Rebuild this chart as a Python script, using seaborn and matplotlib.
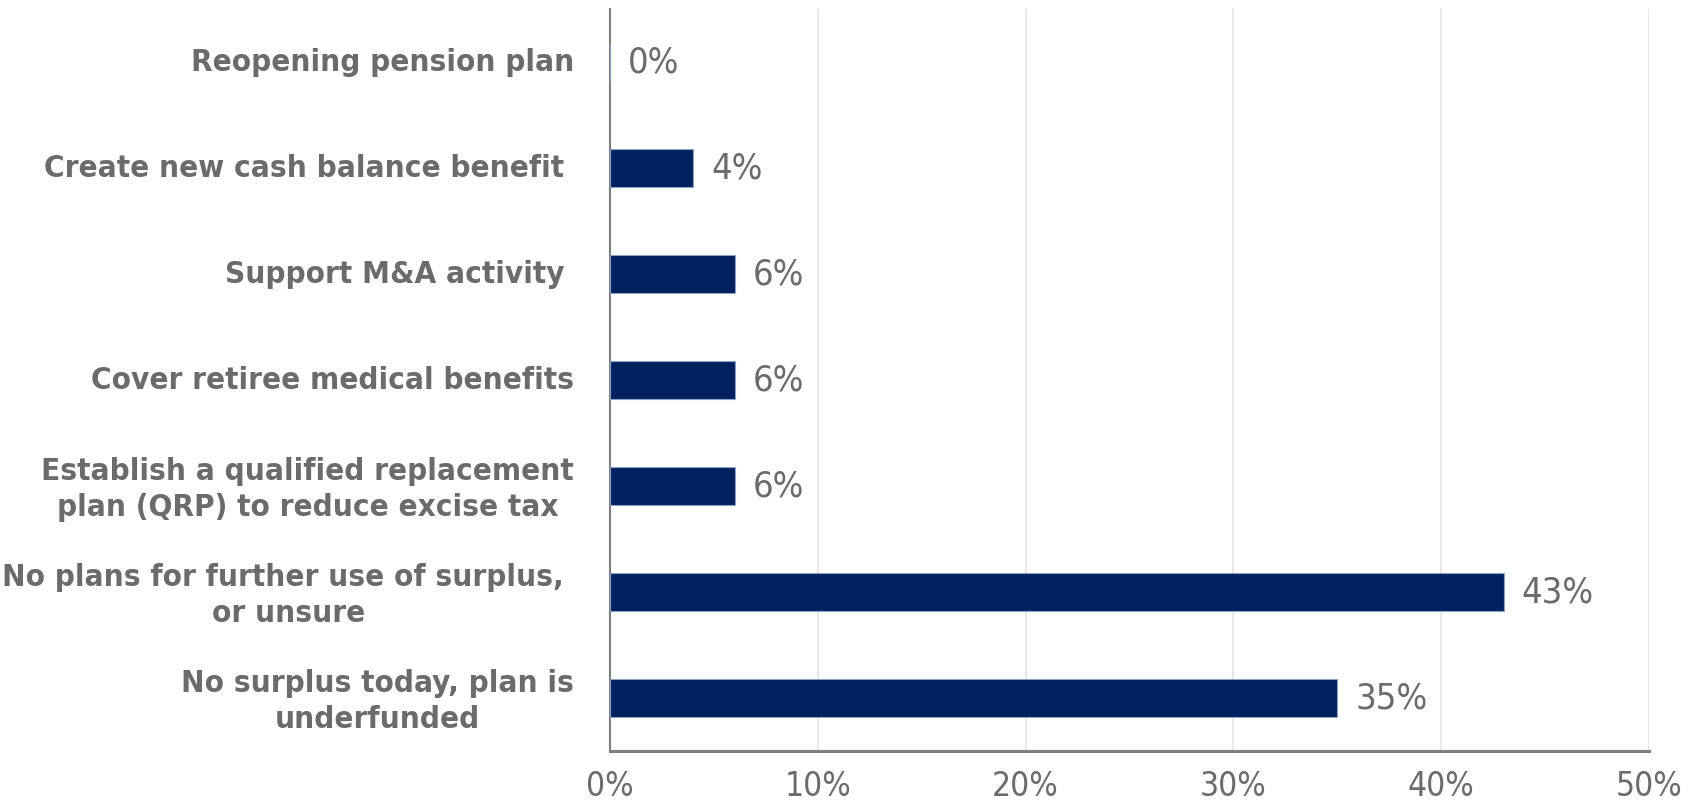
import matplotlib
matplotlib.use("Agg")
import matplotlib.pyplot as plt
import matplotlib.transforms as mtransforms
import seaborn as sns
import pandas as pd
from matplotlib.ticker import PercentFormatter

categories = [
    "Reopening pension plan",
    "Create new cash balance benefit ",
    "Support M&A activity ",
    "Cover retiree medical benefits",
    "Establish a qualified replacement\nplan (QRP) to reduce excise tax",
    "No plans for further use of surplus, \nor unsure",
    "No surplus today, plan is\nunderfunded",
]
values = [0, 4, 6, 6, 6, 43, 35]
x_ticks = [0, 10, 20, 30, 40, 50]

df = pd.DataFrame({"category": categories, "value": values})

sns.set_theme(style="white")
plt.rcParams["font.family"] = ["DejaVu Sans"]
plt.rcParams["font.stretch"] = "condensed"

BAR = "#002060"
TEXT = "#6b6b6b"

fig = plt.figure(figsize=(16.99, 8.05), dpi=100)
ax = fig.add_axes([610 / 1699, 1 - 751 / 805, (1649 - 610) / 1699, (751 - 9) / 805])

sns.barplot(data=df, x="value", y="category", orient="h", color=BAR,
            saturation=1, width=0.35, edgecolor="#8ea0c4", linewidth=0.8,
            ax=ax, zorder=3)

ax.set_xlim(0, 50)
ax.set_ylim(6.5, -0.5)
ax.set_xticks(x_ticks)
ax.xaxis.set_major_formatter(PercentFormatter(decimals=0))
ax.grid(axis="x", color="#e3e3e3", linewidth=1.2, zorder=0)
ax.set_axisbelow(True)
ax.set_xlabel("")
ax.set_ylabel("")

for side in ["top", "right"]:
    ax.spines[side].set_visible(False)
ax.spines["left"].set_color("#7f7f7f")
ax.spines["left"].set_linewidth(1.5)
ax.spines["bottom"].set_color("#7f7f7f")
ax.spines["bottom"].set_linewidth(2.2)

ax.tick_params(axis="x", length=0, pad=14, labelsize=24, labelcolor=TEXT)
ax.tick_params(axis="y", length=0, pad=26, labelsize=22.5, labelcolor=TEXT)

lift = mtransforms.ScaledTranslation(0, 3 / 100, fig.dpi_scale_trans)
for lbl in ax.get_yticklabels():
    lbl.set_fontweight("bold")
    lbl.set_multialignment("center")
    lbl.set_fontstretch("condensed")
    lbl.set_linespacing(1.3)
    lbl.set_transform(lbl.get_transform() + lift)
for lbl in ax.get_xticklabels():
    lbl.set_fontstretch("condensed")

for i, v in enumerate(values):
    ax.annotate(f"{v}%", xy=(v, i), xytext=(13, 0), textcoords="offset points",
                ha="left", va="center", fontsize=26, color=TEXT,
                fontstretch="condensed")

fig.savefig("out.png", dpi=100)
